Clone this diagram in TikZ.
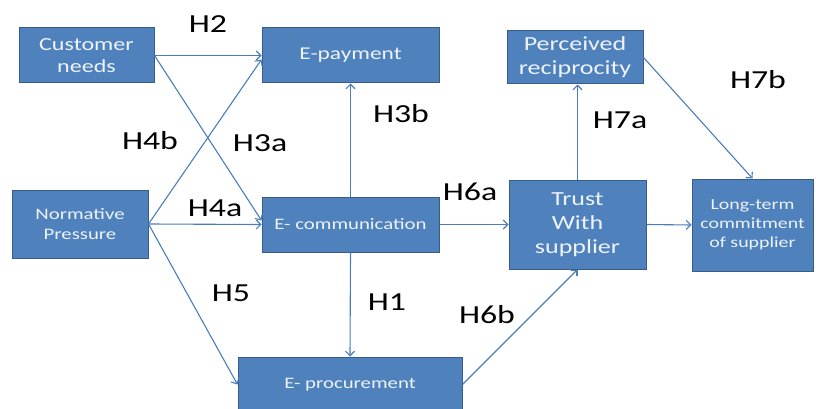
\documentclass[tikz,border=0pt]{standalone}
\usepackage{fontspec}
\setmainfont[FakeStretch=1.3]{Carlito}
\usetikzlibrary{arrows.meta,calc}
\definecolor{boxfill}{HTML}{4F81BD}
\definecolor{boxline}{HTML}{385D8A}
\definecolor{arr}{HTML}{4A7EBB}
\definecolor{boxtext}{HTML}{EEF3FA}
\begin{document}
\begin{tikzpicture}[x=1pt,y=-1pt,
  box/.style={draw=boxline, fill=boxfill, line width=1pt, text=boxtext, align=center, inner sep=0pt},
  conn/.style={draw=arr, line width=1.1pt, -{Straight Barb[length=4.5pt,width=9pt]}},
  hyp/.style={font=\fontsize{26}{30}\selectfont, text=black, inner sep=0pt}]
\useasboundingbox (0,0) rectangle (816,409);

% boxes
\node[box, minimum width=135pt, minimum height=55pt, font=\fontsize{18.5}{22.5}\selectfont] (cn) at (86.5,55.5) {Customer\\needs};
\node[box, minimum width=177pt, minimum height=55pt, font=\fontsize{18}{22}\selectfont] (ep) at (350.5,55.5) {E-payment};
\node[box, minimum width=136pt, minimum height=68pt, font=\fontsize{16}{19.5}\selectfont] (np) at (80,224) {Normative\\Pressure};
\node[box, minimum width=177pt, minimum height=55pt, font=\fontsize{16}{19.5}\selectfont] (ec) at (350.5,224.5) {E- communication};
\node[box, minimum width=224pt, minimum height=55pt, font=\fontsize{16}{19.5}\selectfont] (eproc) at (350,384.5) {E- procurement};
\node[box, minimum width=136pt, minimum height=53pt, font=\fontsize{20}{24}\selectfont] (pr) at (575,57.5) {Perceived\\reciprocity};
\node[box, minimum width=137pt, minimum height=89pt, font=\fontsize{20}{24}\selectfont] (tr) at (577.5,224.5) {Trust\\With\\supplier};
\node[box, minimum width=121pt, minimum height=92pt, font=\fontsize{15.3}{19}\selectfont] (lt) at (752.5,225) {Long-term\\commitment\\of supplier};

% connectors
\draw[conn] (cn.east) -- (ep.west);
\draw[conn] (cn.east) -- ($(ec.west)+(0,-4)$);
\draw[conn] (np.east) -- ($(ep.west)+(0,4)$);
\draw[conn] (np.east) -- (ec.west);
\draw[conn] (np.east) -- (eproc.west);
\draw[conn] (ec.north) -- (ep.south);
\draw[conn] (ec.south) -- (eproc.north);
\draw[conn] (ec.east) -- (tr.west);
\draw[conn] (eproc.east) -- (tr.south);
\draw[conn] (tr.north) -- (tr.north |- pr.south);
\draw[conn] (pr.east) -- (lt.north);
\draw[conn] (tr.east) -- (lt.west);

% hypothesis labels
\node[hyp] (h2) at (208,24) {H2};
\node[hyp] (h3b) at (401,114) {H3b};
\node[hyp] (h4b) at (150,141) {H4b};
\node[hyp] (h3a) at (260,143) {H3a};
\node[hyp] (h4a) at (215,208) {H4a};
\node[hyp] (h6a) at (470,192) {H6a};
\node[hyp] (h5) at (231,293) {H5};
\node[hyp] (h1) at (387,302) {H1};
\node[hyp] (h6b) at (487,315) {H6b};
\node[hyp] (h7a) at (620,120) {H7a};
\node[hyp] (h7b) at (758,80) {H7b};
\end{tikzpicture}
\end{document}
